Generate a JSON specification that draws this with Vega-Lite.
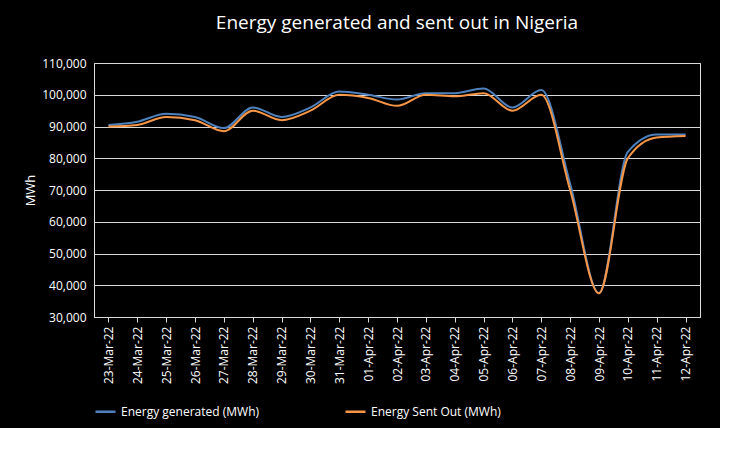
{
"$schema":"https://vega.github.io/schema/vega-lite/v6.json",
"width":606,"height":254,
"background":"black",
"padding":{"left":24,"top":14,"right":20,"bottom":10},
"title":{"text":"Energy generated and sent out in Nigeria","color":"white","fontSize":19,"font":"Open Sans","fontWeight":"normal","offset":24},
"data":{"values":[
{"d":"23-Mar-22","g":90500,"s":90000},
{"d":"24-Mar-22","g":91500,"s":90500},
{"d":"25-Mar-22","g":94000,"s":93000},
{"d":"26-Mar-22","g":93000,"s":92000},
{"d":"27-Mar-22","g":89500,"s":88500},
{"d":"28-Mar-22","g":96000,"s":95000},
{"d":"29-Mar-22","g":93000,"s":92000},
{"d":"30-Mar-22","g":96000,"s":95000},
{"d":"31-Mar-22","g":101000,"s":100000},
{"d":"01-Apr-22","g":100000,"s":99000},
{"d":"02-Apr-22","g":98500,"s":96500},
{"d":"03-Apr-22","g":100500,"s":100000},
{"d":"04-Apr-22","g":100500,"s":99500},
{"d":"05-Apr-22","g":102000,"s":100500},
{"d":"06-Apr-22","g":96000,"s":95000},
{"d":"07-Apr-22","g":101500,"s":100000},
{"d":"08-Apr-22","g":72000,"s":70000},
{"d":"09-Apr-22","g":37500,"s":37500},
{"d":"10-Apr-22","g":82000,"s":80000},
{"d":"11-Apr-22","g":87500,"s":86500},
{"d":"12-Apr-22","g":87500,"s":87000}
]},
"transform":[{"fold":["g","s"],"as":["k","v"]},
{"calculate":"datum.k=='g'?'Energy generated (MWh)':'Energy Sent Out (MWh)'","as":"series"}],
"mark":{"type":"line","interpolate":"monotone","strokeWidth":2},
"encoding":{
"x":{"field":"d","type":"ordinal","sort":null,"title":null,"scale":{"paddingOuter":0.5},
"axis":{"labelAngle":-90,"labelColor":"white","labelFontSize":12,"labelFont":"Open Sans","domainColor":"#d9d9d9","tickColor":"#d9d9d9","tickSize":5,"labelPadding":4}},
"y":{"field":"v","type":"quantitative","scale":{"domain":[30000,110000],"nice":false},"title":"MWh",
"axis":{"values":[30000,40000,50000,60000,70000,80000,90000,100000,110000],"labelExpr":"format(datum.value, ',')","labelColor":"white","labelFontSize":12,"labelFont":"Open Sans","titleColor":"white","titleFont":"Open Sans","titleFontWeight":"normal","titleFontSize":13,"gridColor":"#d9d9d9","domain":false,"ticks":false,"labelPadding":8}},
"color":{"field":"series","type":"nominal","scale":{"domain":["Energy generated (MWh)","Energy Sent Out (MWh)"],"range":["#4f81bd","#f79646"]},
"legend":{"orient":"bottom","title":null,"labelColor":"white","labelFontSize":12,"labelFont":"Open Sans","symbolType":"stroke","symbolStrokeWidth":2.5,"symbolSize":400,"columnPadding":80,"labelLimit":300,"offset":16}}
}
}
